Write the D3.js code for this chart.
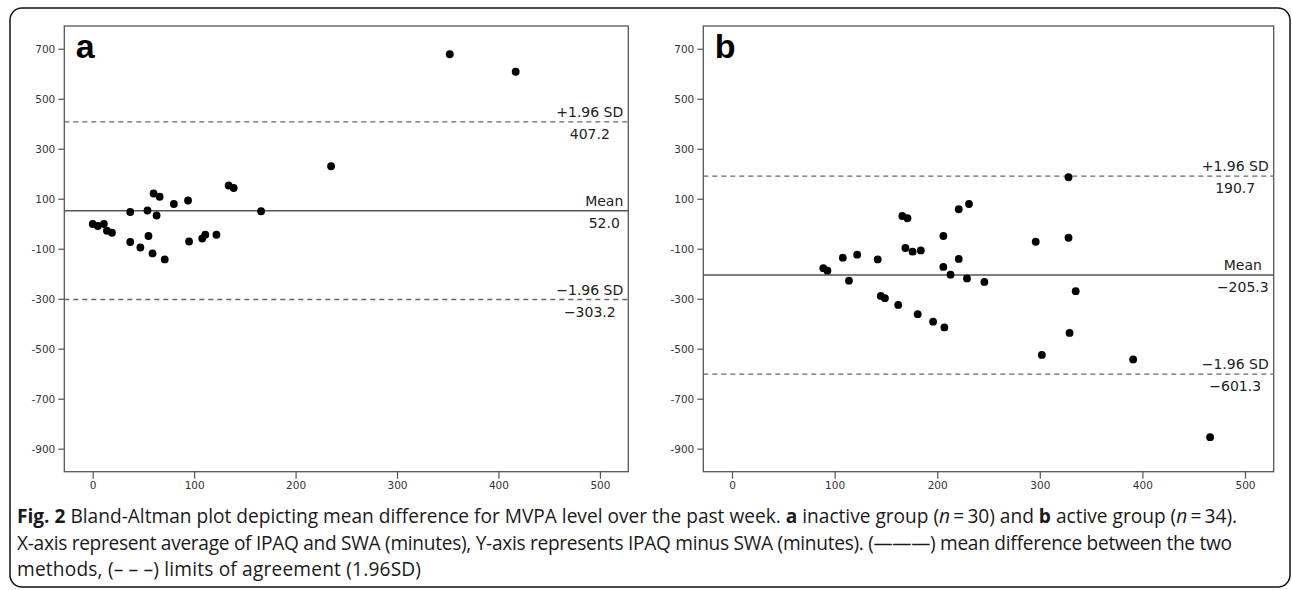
<!DOCTYPE html>
<html>
<head>
<meta charset="utf-8">
<script src="https://cdn.jsdelivr.net/npm/d3@7"></script>
<style>
  body { margin: 0; background: #fff; }
  svg { display: block; }
</style>
</head>
<body>
<script>
// panel a: inactive group, average of IPAQ and SWA vs IPAQ minus SWA (minutes)
var inactiveAvg  = [0, 5, 11, 14, 19, 37, 37, 47, 54, 55, 59, 60, 63, 66, 71, 80, 94, 95, 108, 111, 122, 134, 139, 166, 235, 352, 417];
var inactiveDiff = [-1, -9, -1, -28, -36, 47, -73, -95, 53, -49, -119, 121, 33, 108, -143, 79, 93, -71, -59, -44, -44, 153, 143, 50, 230, 678, 608];

// panel b: active group
var activeAvg  = [89, 93, 108, 114, 122, 142, 145, 149, 162, 166, 169, 171, 176, 181, 184, 196, 206, 206, 207, 213, 221, 221, 229, 231, 246, 296, 302, 328, 328, 329, 335, 391, 466];
var activeDiff = [-178, -188, -136, -228, -124, -143, -289, -298, -325, 31, -97, 22, -112, -362, -107, -392, -49, -173, -415, -204, -141, 58, -219, 79, -233, -72, -525, 186, -56, -437, -270, -543, -854];

// mean difference and limits of agreement, per panel
var panelLetters = ["a", "b"];
var meanDiff  = [52.0, -205.3];
var upperLoA  = [407.2, 190.7];
var lowerLoA  = [-303.2, -601.3];

var xTicks = [0, 100, 200, 300, 400, 500];
var yTicks = [700, 500, 300, 100, -100, -300, -500, -700, -900];

var W = 1292, H = 590;
var svg = d3.select("body").append("svg")
    .attr("width", W)
    .attr("height", H);

// outer rounded box
svg.append("rect")
    .attr("x", 10).attr("y", 8)
    .attr("width", 1280).attr("height", 579)
    .attr("rx", 12).attr("ry", 12)
    .attr("fill", "none")
    .attr("stroke", "#111")
    .attr("stroke-width", 1.5);

var panels = [
    { left: 64.3, right: 628.3, xs: inactiveAvg, ys: inactiveDiff },
    { left: 703.3, right: 1273.7, xs: activeAvg, ys: activeDiff }
];
var plotTop = 26, plotBottom = 471.7;

var y = d3.scaleLinear().domain([-992, 791]).range([plotBottom, plotTop]);

panels.forEach(function(p, i) {
    var x = d3.scaleLinear().domain([-28, 528]).range([p.left, p.right]);
    var g = svg.append("g");

    // axes
    var ya = g.append("g")
        .attr("transform", "translate(" + p.left + ",0)")
        .call(d3.axisLeft(y).tickValues(yTicks).tickSize(6).tickPadding(3)
            .tickFormat(function(d) { return String(d); }));
    var xa = g.append("g")
        .attr("transform", "translate(0," + plotBottom + ")")
        .call(d3.axisBottom(x).tickValues(xTicks).tickSize(7).tickPadding(3)
            .tickFormat(function(d) { return String(d); }));
    [ya, xa].forEach(function(a) {
        a.select(".domain").remove();
        a.selectAll("line").attr("stroke", "#555").attr("stroke-width", 1.2);
        a.selectAll("text")
            .attr("font-family", "DejaVu Sans")
            .attr("font-size", 10.5)
            .attr("fill", "#333");
    });

    // frame
    g.append("rect")
        .attr("x", p.left).attr("y", plotTop)
        .attr("width", p.right - p.left).attr("height", plotBottom - plotTop)
        .attr("fill", "none")
        .attr("stroke", "#555")
        .attr("stroke-width", 1.3);

    // reference lines
    var lines = [
        { v: upperLoA[i], dash: "5,4", top: "+1.96 SD", val: upperLoA[i].toFixed(1) },
        { v: meanDiff[i], dash: null, top: "Mean", val: meanDiff[i].toFixed(1).replace("-", "\u2212") },
        { v: lowerLoA[i], dash: "5,4", top: "\u22121.96 SD", val: lowerLoA[i].toFixed(1).replace("-", "\u2212") }
    ];
    lines.forEach(function(l) {
        g.append("line")
            .attr("x1", p.left).attr("x2", p.right)
            .attr("y1", y(l.v)).attr("y2", y(l.v))
            .attr("stroke", l.dash ? "#666" : "#555")
            .attr("stroke-width", l.dash ? 1.3 : 1.6)
            .attr("stroke-dasharray", l.dash);

        var t1 = g.append("text").text(l.top)
            .attr("y", y(l.v) - 5);
        var t2 = g.append("text").text(l.val)
            .attr("y", y(l.v) + 17);
        [t1, t2].forEach(function(t) {
            t.attr("font-family", "DejaVu Sans")
             .attr("font-size", 14)
             .attr("fill", "#222")
             .attr("text-anchor", "middle");
        });
        var wmax = Math.max(t1.node().getComputedTextLength(), t2.node().getComputedTextLength());
        var cx = p.right - 5 - wmax / 2;
        t1.attr("x", cx);
        t2.attr("x", cx);
    });

    // points
    g.selectAll("circle.pt")
        .data(p.xs.map(function(d, k) { return [d, p.ys[k]]; }))
        .enter()
        .append("circle")
        .attr("class", "pt")
        .attr("cx", function(d) { return x(d[0]); })
        .attr("cy", function(d) { return y(d[1]); })
        .attr("r", 3.9)
        .attr("fill", "#000");

    // panel letter
    g.append("text")
        .text(panelLetters[i])
        .attr("x", p.left + 11.5)
        .attr("y", 57.5)
        .attr("font-family", "Liberation Sans")
        .attr("font-weight", "bold")
        .attr("font-size", 34)
        .attr("fill", "#000");
});

// caption
var caption = [
    { y: 523, w: 1221, parts: [
        { t: "Fig. 2", b: true },
        { t: " Bland-Altman plot depicting mean difference for MVPA level over the past week. " },
        { t: "a", b: true },
        { t: " inactive group (" },
        { t: "n", i: true },
        { t: "\u2009=\u200930) and " },
        { t: "b", b: true },
        { t: " active group (" },
        { t: "n", i: true },
        { t: "\u2009=\u200934)." }
    ]},
    { y: 549.5, w: 1215, parts: [
        { t: "X-axis represent average of IPAQ and SWA (minutes), Y-axis represents IPAQ minus SWA (minutes). (\u2014\u2014\u2014) mean difference between the two" }
    ]},
    { y: 576, w: 404, parts: [
        { t: "methods, (\u2013 \u2013 \u2013) limits of agreement (1.96SD)" }
    ]}
];

var fs = 17;
caption.forEach(function(line) {
    var t = svg.append("text")
        .attr("x", 17)
        .attr("y", line.y)
        .attr("font-family", "Open Sans")
        .attr("font-size", fs)
        .attr("fill", "#1a1a1a");
    line.parts.forEach(function(pt) {
        t.append("tspan")
            .text(pt.t)
            .attr("font-weight", pt.b ? "bold" : null)
            .attr("font-style", pt.i ? "italic" : null);
    });
    line.node = t;
});
// one font size for the whole caption (fitted on line 1), then spacing to fit the others
var capSize = fs * caption[0].w / caption[0].node.node().getComputedTextLength();
caption.forEach(function(line, k) {
    line.node.attr("font-size", capSize);
    if (k > 0) {
        line.node.attr("textLength", line.w).attr("lengthAdjust", "spacing");
    }
});
</script>
</body>
</html>
